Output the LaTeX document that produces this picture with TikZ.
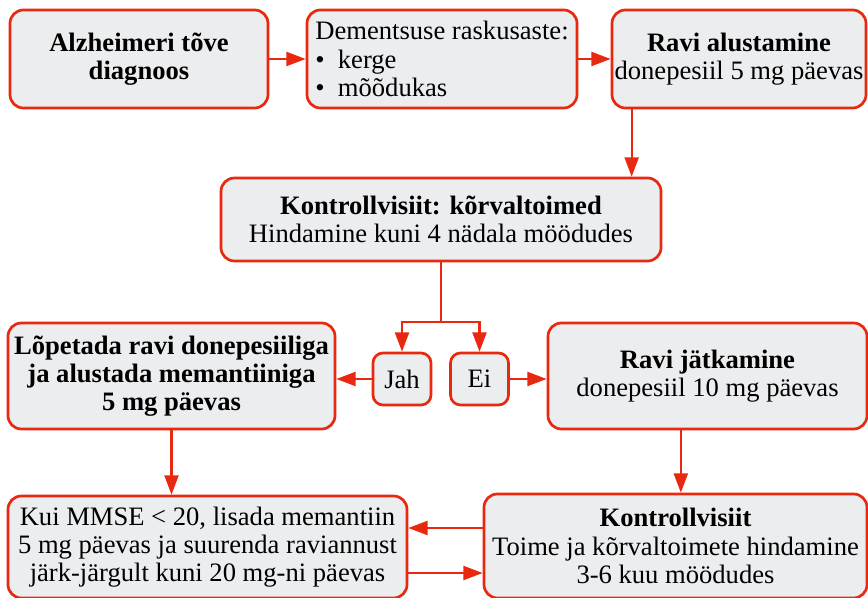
\documentclass[tikz,border=0pt]{standalone}
\usepackage{fontspec}
\setmainfont{Liberation Serif}
\usetikzlibrary{arrows.meta, positioning, calc}
\definecolor{flowred}{HTML}{E8290F}
\definecolor{boxfill}{HTML}{ECEDEF}

\begin{document}
\begin{tikzpicture}[
    x=0.03cm, y=-0.03cm,
    >={Triangle[length=16.5pt, width=12pt]},
    box/.style={draw=flowred, fill=boxfill, line width=2.3pt, rounded corners=0.4cm,
                align=center, inner sep=0pt,
                font=\fontsize{22.7}{24}\selectfont},
    answer/.style={box, rounded corners=0.3cm, minimum width=1.74cm, minimum height=1.56cm},
    link/.style={draw=flowred, line width=1.8pt},
]
\useasboundingbox (0,0) rectangle (868,598);

% top row
\node[box, minimum width=7.74cm, minimum height=2.94cm] (diag) at (139,59)
    {\textbf{Alzheimeri tõve}\\\textbf{diagnoos}};
\node[box, align=left, minimum width=8.1cm, minimum height=2.94cm] (severity) at (442,59)
    {Dementsuse raskusaste:\\\textbullet\hspace{0.5em}kerge\\\textbullet\hspace{0.5em}mõõdukas};
\node[box, minimum width=7.62cm, minimum height=2.94cm] (start) at (739,59)
    {\textbf{Ravi alustamine}\\donepesiil 5 mg päevas};

% first check-up
\node[box, minimum width=13.2cm, minimum height=2.49cm] (control1) at (441,219.5)
    {\textbf{Kontrollvisiit: kõrvaltoimed}\\Hindamine kuni 4 nädala möödudes};

% answers
\node[answer] (jah) at (402,379) {Jah};
\node[answer] (ei) at (479.5,379) {Ei};

\node[box, minimum width=9.81cm, minimum height=3.18cm] (stop) at (171.5,376)
    {\textbf{Lõpetada ravi donepesiiliga}\\\textbf{ja alustada memantiiniga}\\\textbf{5 mg päevas}};
\node[box, minimum width=9.57cm, minimum height=3.18cm] (cont) at (707.5,376)
    {\textbf{Ravi jätkamine}\\donepesiil 10 mg päevas};

% bottom row
\node[box, minimum width=11.97cm, minimum height=3.06cm] (mmse) at (207.5,547)
    {Kui MMSE < 20, lisada memantiin\\5 mg päevas ja suurenda raviannust\\järk-järgult kuni 20 mg-ni päevas};
\node[box, minimum width=11.49cm, minimum height=3.12cm] (control2) at (675.5,546)
    {\textbf{Kontrollvisiit}\\Toime ja kõrvaltoimete hindamine\\3-6 kuu möödudes};

% connectors
\draw[link, ->] (diag) -- (severity);
\draw[link, ->] (severity) -- (start);
\draw[link, ->] ([xshift=0.63cm]start.south west) -- ([xshift=0.63cm]start.south west |- control1.north);
\draw[link] (control1.south) -- ++(0,60) coordinate (fork);
\draw[link, ->] (fork) -| (jah.north);
\draw[link, ->] (fork) -| (ei.north);
\draw[link, ->] (jah.west) -- (jah.west -| stop.east);
\draw[link, ->] (ei.east) -- (ei.east -| cont.west);
\draw[link, ->] (stop.south) -- (stop.south |- mmse.north);
\draw[link, ->] ([xshift=-0.8cm]cont.south) -- ([xshift=-0.8cm]cont.south |- control2.north);
\draw[link, ->] ([yshift=0.54cm]control2.west) -- ([yshift=0.54cm]control2.west -| mmse.east);
\draw[link, ->] ([yshift=-0.78cm]mmse.east) -- ([yshift=-0.78cm]mmse.east -| control2.west);

\end{tikzpicture}
\end{document}
